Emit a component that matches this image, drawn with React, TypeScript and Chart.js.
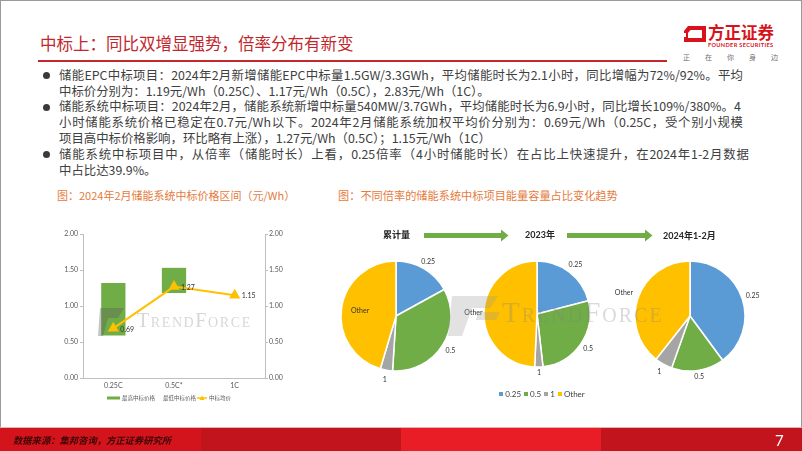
import React, { useEffect, useRef } from 'react';
import { Chart, registerables } from 'chart.js';

Chart.register(...registerables);

// ---------------- data ----------------
const priceCategories = ['0.25C', '0.5C*', '1C'];
const priceSeriesNames = ['最高中标价格', '最低中标价格', '中标均价'];
const priceLowest = [0.59, 1.18, null];
const priceHighest = [1.32, 1.53, null];
const priceAverage = [0.69, 1.27, 1.15];
const priceAxisMin = 0;
const priceAxisMax = 2;
const priceAxisStep = 0.5;

const rateLabels = ['0.25', '0.5', '1', 'Other'];
const periodLabels = ['累计量', '2023年', '2024年1-2月'];
const shareCumulative = [17, 34, 3.6, 45.4];
const share2023 = [21, 27.2, 2.5, 49.3];
const share2024JanFeb = [39.9, 15.5, 5.2, 39.4];

// ---------------- styles ----------------
const CJK = '"Noto Sans CJK SC", "Noto Sans", sans-serif';
const LATIN = 'Lato, "Noto Sans CJK SC", sans-serif';
const RATE_COLORS = ['#5B9BD5', '#70AD47', '#A5A5A5', '#FFC000'];
const RED = '#c1272d';
const TEXT = '#404040';
const ORANGE = '#e57b3c';

function ChartBox({ make, left, top, width, height }: any) {
  const ref = useRef<HTMLCanvasElement>(null);
  useEffect(() => {
    const chart = new Chart(ref.current as HTMLCanvasElement, make());
    return () => chart.destroy();
  }, []);
  return (
    <canvas
      ref={ref}
      width={width}
      height={height}
      style={{ position: 'absolute', left, top, width, height }}
    />
  );
}

const avgLabelPlugin = {
  id: 'avgLabels',
  afterDatasetsDraw(chart: any) {
    const ctx = chart.ctx;
    const meta = chart.getDatasetMeta(0);
    ctx.save();
    ctx.font = `7px ${LATIN}`;
    ctx.fillStyle = '#333';
    ctx.textAlign = 'left';
    ctx.textBaseline = 'middle';
    meta.data.forEach((pt: any, i: number) => {
      const v = priceAverage[i];
      if (v == null) return;
      ctx.fillText(v.toFixed(2), pt.x + 7, pt.y + 1);
    });
    ctx.restore();
  },
};

const priceLegendPlugin = {
  id: 'priceLegend',
  afterDraw(chart: any) {
    const { ctx, chartArea } = chart;
    const y = chartArea.bottom + 20;
    let x = chartArea.left + 24;
    ctx.save();
    ctx.font = `5.5px ${CJK}`;
    ctx.textBaseline = 'middle';
    ctx.textAlign = 'left';
    ctx.fillStyle = '#70AD47';
    ctx.fillRect(x, y - 1.5, 13, 3);
    x += 15;
    ctx.fillStyle = '#595959';
    ctx.fillText(priceSeriesNames[0], x, y);
    x += ctx.measureText(priceSeriesNames[0]).width + 8;
    ctx.fillText(priceSeriesNames[1], x, y);
    x += ctx.measureText(priceSeriesNames[1]).width + 1;
    ctx.strokeStyle = '#FFC000';
    ctx.lineWidth = 1.5;
    ctx.beginPath();
    ctx.moveTo(x, y);
    ctx.lineTo(x + 10, y);
    ctx.stroke();
    ctx.fillStyle = '#FFC000';
    ctx.beginPath();
    ctx.moveTo(x + 5, y - 2.5);
    ctx.lineTo(x + 7.5, y + 2);
    ctx.lineTo(x + 2.5, y + 2);
    ctx.closePath();
    ctx.fill();
    x += 12;
    ctx.fillStyle = '#595959';
    ctx.fillText(priceSeriesNames[2], x, y);
    ctx.restore();
  },
};

function yAxis(position: string, width: number) {
  return {
    position,
    min: priceAxisMin,
    max: priceAxisMax,
    ticks: {
      stepSize: priceAxisStep,
      padding: position === 'left' ? 2 : 1,
      color: '#595959',
      font: { size: 7, family: LATIN },
      callback: (v: any) => Number(v).toFixed(2),
    },
    grid: { drawOnChartArea: false, drawTicks: true, tickLength: 3, color: '#BFBFBF' },
    border: { display: true, color: '#BFBFBF' },
    afterFit: (s: any) => {
      s.width = width;
    },
  };
}

function priceConfig(): any {
  const ranges = priceLowest.map((lo, i) =>
    lo == null || priceHighest[i] == null ? null : [lo, priceHighest[i]]
  );
  return {
    type: 'bar',
    data: {
      labels: priceCategories,
      datasets: [
        {
          type: 'line',
          label: priceSeriesNames[2],
          data: priceAverage,
          borderColor: '#FFC000',
          backgroundColor: '#FFC000',
          borderWidth: 2,
          pointStyle: 'triangle',
          pointRadius: 4.5,
          pointBackgroundColor: '#FFC000',
          pointBorderColor: '#FFC000',
          yAxisID: 'y',
          order: 0,
        },
        {
          type: 'bar',
          label: priceSeriesNames[0],
          data: ranges,
          backgroundColor: '#70AD47',
          barPercentage: 0.4,
          categoryPercentage: 1,
          yAxisID: 'y',
          order: 1,
        },
      ],
    },
    options: {
      responsive: false,
      animation: false,
      layout: { padding: { top: 12, bottom: 14, left: 0, right: 0 } },
      plugins: { legend: { display: false }, tooltip: { enabled: false } },
      scales: {
        x: {
          grid: { display: false, drawTicks: false },
          border: { display: true, color: '#BFBFBF' },
          ticks: { padding: 4, color: '#595959', font: { size: 7, family: LATIN } },
          afterFit: (s: any) => {
            s.height = 20;
          },
        },
        y: yAxis('left', 43),
        y1: yAxis('right', 37),
      },
    },
    plugins: [avgLabelPlugin, priceLegendPlugin],
  };
}

function pieConfig(values: number[], radius: number, factors: number[]): any {
  return {
    type: 'pie',
    data: {
      labels: rateLabels,
      datasets: [
        { data: values, backgroundColor: RATE_COLORS, borderColor: '#ffffff', borderWidth: 1.5 },
      ],
    },
    options: {
      responsive: false,
      animation: false,
      radius,
      layout: { padding: 0 },
      plugins: { legend: { display: false }, tooltip: { enabled: false } },
    },
    plugins: [
      {
        id: 'pieLabels',
        afterDatasetsDraw(chart: any) {
          const ctx = chart.ctx;
          const meta = chart.getDatasetMeta(0);
          ctx.save();
          ctx.font = `7px ${LATIN}`;
          ctx.fillStyle = '#333';
          ctx.textAlign = 'center';
          ctx.textBaseline = 'middle';
          meta.data.forEach((arc: any, i: number) => {
            const p = arc.getProps(['x', 'y', 'startAngle', 'endAngle', 'outerRadius'], true);
            const mid = (p.startAngle + p.endAngle) / 2;
            const r = p.outerRadius * factors[i];
            ctx.fillText(String(chart.data.labels[i]), p.x + Math.cos(mid) * r, p.y + Math.sin(mid) * r);
          });
          ctx.restore();
        },
      },
    ],
  };
}

const bulletLines = [
  { text: '储能EPC中标项目：2024年2月新增储能EPC中标量1.5GW/3.3GWh，平均储能时长为2.1小时，同比增幅为72%/92%。平均', bullet: true, width: 684 },
  { text: '中标价分别为：1.19元/Wh（0.25C）、1.17元/Wh（0.5C），2.83元/Wh（1C）。', bullet: false, width: 0 },
  { text: '储能系统中标项目：2024年2月，储能系统新增中标量540MW/3.7GWh，平均储能时长为6.9小时，同比增长109%/380%。4', bullet: true, width: 682 },
  { text: '小时储能系统价格已稳定在0.7元/Wh以下。2024年2月储能系统加权平均价分别为：0.69元/Wh（0.25C，受个别小规模', bullet: false, width: 684 },
  { text: '项目高中标价格影响，环比略有上涨），1.27元/Wh（0.5C）；1.15元/Wh（1C）', bullet: false, width: 0 },
  { text: '储能系统中标项目中，从倍率（储能时长）上看，0.25倍率（4小时储能时长）在占比上快速提升，在2024年1-2月数据', bullet: true, width: 690 },
  { text: '中占比达39.9%。', bullet: false, width: 0 },
];

const abs = (o: any): any => ({ position: 'absolute', ...o });

export default function App() {
  const lineH = 15.8;
  const firstTop = 67.8;
  return (
    <div style={{ position: 'relative', width: 802, height: 451, overflow: 'hidden', background: '#fff', fontFamily: CJK }}>
      <style>{'html,body{margin:0;padding:0;background:#fff}'}</style>

      {/* slide frame */}
      <div style={abs({ left: 0, top: 0, width: 802, height: 1, background: '#9a9a9a' })} />
      <div style={abs({ left: 0, top: 0, width: 1, height: 451, background: '#9a9a9a' })} />
      <div style={abs({ left: 801, top: 0, width: 1, height: 451, background: '#9a9a9a' })} />

      {/* title */}
      <div style={abs({ left: 40, top: 33, fontSize: 16.5, lineHeight: '20px', color: RED, whiteSpace: 'nowrap' })}>
        中标上：同比双增显强势，倍率分布有新变
      </div>
      <div style={abs({ left: 38, top: 60, width: 629, height: 2, background: RED })} />

      {/* logo */}
      <svg style={abs({ left: 0, top: 0 })} width={802} height={451}>
        <path d="M688 26 L706 26 L706 42 L684 42 L684 31 Z M690.5 30 L702 30 L702 38 L688 38 L688 33 Z" fill="#d7141c" fillRule="evenodd" />
        <rect x={683} y={33} width={3} height={4} fill="#ffffff" />
      </svg>
      <div style={abs({ left: 708, top: 22, fontSize: 16.5, lineHeight: '20px', fontWeight: 700, color: '#d7141c', whiteSpace: 'nowrap' })}>
        方正证券
      </div>
      <div style={abs({ left: 708, top: 41, fontSize: 5.6, lineHeight: '7px', fontWeight: 700, color: '#d7141c', letterSpacing: 0.35, fontFamily: LATIN, whiteSpace: 'nowrap' })}>
        FOUNDER SECURITIES
      </div>
      <div style={abs({ left: 683, top: 53, width: 95, display: 'flex', justifyContent: 'space-between', fontSize: 7, lineHeight: '9px', color: '#707070' })}>
        {'正在你身边'.split('').map((c, i) => (
          <span key={i}>{c}</span>
        ))}
      </div>

      {/* bullets */}
      {bulletLines.map((l, i) => (
        <React.Fragment key={i}>
          {l.bullet && (
            <div style={abs({ left: 42.5, top: firstTop + i * lineH + lineH / 2 - 3.5, width: 7, height: 7, borderRadius: '50%', background: '#3a3a3a' })} />
          )}
          <div
            style={abs({
              left: 59,
              top: firstTop + i * lineH,
              width: l.width ? l.width : 720,
              height: lineH,
              lineHeight: `${lineH}px`,
              fontSize: 12.4,
              color: TEXT,
              textAlign: l.width ? 'justify' : 'left',
              textAlignLast: l.width ? 'justify' : 'left',
            })}
          >
            {l.text}
          </div>
        </React.Fragment>
      ))}

      {/* captions */}
      <div style={abs({ left: 57, top: 188, fontSize: 11, lineHeight: '14px', color: ORANGE, whiteSpace: 'nowrap' })}>
        图：2024年2月储能系统中标价格区间（元/Wh）
      </div>
      <div style={abs({ left: 338, top: 188, fontSize: 11.2, lineHeight: '14px', color: ORANGE, whiteSpace: 'nowrap' })}>
        图：不同倍率的储能系统中标项目能量容量占比变化趋势
      </div>

      {/* left chart */}
      <ChartBox make={priceConfig} left={40} top={222} width={262} height={190} />

      {/* pies */}
      <ChartBox make={() => pieConfig(shareCumulative, 55, [1.15, 1.17, 1.17, 0.66])} left={396 - 95} top={316 - 75} width={190} height={150} />
      <ChartBox make={() => pieConfig(share2023, 53, [1.18, 1.17, 1.1, 1.2])} left={537 - 95} top={314 - 75} width={190} height={150} />
      <ChartBox make={() => pieConfig(share2024JanFeb, 55, [1.2, 1.12, 1.16, 1.27])} left={690 - 95} top={316 - 75} width={190} height={150} />

      {/* pie headers and arrows */}
      <div style={abs({ left: 383, top: 229, fontSize: 9, lineHeight: '12px', fontWeight: 700, color: '#262626', whiteSpace: 'nowrap' })}>
        {periodLabels[0]}
      </div>
      <div style={abs({ left: 525, top: 229, fontSize: 9, lineHeight: '12px', color: '#262626', fontFamily: LATIN, fontWeight: 700, whiteSpace: 'nowrap' })}>
        {periodLabels[1]}
      </div>
      <div style={abs({ left: 663, top: 229.5, fontSize: 9, lineHeight: '12px', color: '#262626', fontFamily: LATIN, fontWeight: 700, whiteSpace: 'nowrap' })}>
        {periodLabels[2]}
      </div>
      <svg style={abs({ left: 0, top: 0, pointerEvents: 'none' })} width={802} height={451}>
        <rect x={424} y={233} width={79} height={5} fill="#70AD47" />
        <path d="M501 229.5 L508.5 235.5 L501 241.5 Z" fill="#70AD47" />
        <rect x={567} y={233} width={80} height={5} fill="#70AD47" />
        <path d="M645 229.5 L652.5 235.5 L645 241.5 Z" fill="#70AD47" />
        {/* watermark marks */}
        <path d="M100 308 L124 308 L118 318 L108 318 L103 336 L98 336 Z" fill="rgba(90,90,90,0.35)" />
        <path d="M452 296 L498 296 L490 308 L472 308 L462 336 L448 336 Z" fill="rgba(150,150,150,0.28)" />
        <path d="M478 312 L500 312 L496 320 L476 320 Z" fill="rgba(150,150,150,0.28)" />
      </svg>

      {/* watermarks */}
      <div style={abs({ left: 137, top: 308, fontSize: 20, lineHeight: '25px', fontFamily: '"Liberation Serif", serif', fontVariant: 'small-caps', color: 'rgba(140,140,140,0.35)', letterSpacing: 1.6, whiteSpace: 'nowrap' })}>
        TrendForce
      </div>
      <div style={abs({ left: 502, top: 294, fontSize: 29, lineHeight: '36px', fontFamily: '"Liberation Serif", serif', fontVariant: 'small-caps', color: 'rgba(130,130,130,0.3)', letterSpacing: 2, whiteSpace: 'nowrap' })}>
        TrendForce
      </div>

      {/* pie legend */}
      <div style={abs({ left: 442, top: 388, width: 200, textAlign: 'center', fontSize: 8, lineHeight: '12px', color: TEXT, fontFamily: LATIN, whiteSpace: 'nowrap' })}>
        {rateLabels.map((l, i) => (
          <span key={i} style={{ marginRight: i < rateLabels.length - 1 ? 3 : 0 }}>
            <span style={{ display: 'inline-block', width: 4, height: 4, background: RATE_COLORS[i], marginRight: 2, verticalAlign: 'middle', position: 'relative', top: -1 }} />
            {l}
          </span>
        ))}
      </div>

      {/* footer */}
      <div style={abs({ left: 0, top: 427, width: 802, height: 1, background: '#eab2b4' })} />
      <div style={abs({ left: 0, top: 428, width: 201, height: 23, background: '#d3141d' })} />
      <div style={abs({ left: 201, top: 428, width: 200, height: 23, background: '#c1141c' })} />
      <div style={abs({ left: 401, top: 428, width: 200, height: 23, background: '#e81d25' })} />
      <div style={abs({ left: 601, top: 428, width: 201, height: 23, background: '#c1141c' })} />
      <div style={abs({ left: 13, top: 433, fontSize: 9.3, lineHeight: '14px', fontStyle: 'italic', fontWeight: 700, color: '#3a0606', whiteSpace: 'nowrap' })}>
        数据来源：集邦咨询，方正证券研究所
      </div>
      <div style={abs({ left: 775, top: 430, fontSize: 15, lineHeight: '20px', color: '#ffffff', fontFamily: LATIN })}>
        7
      </div>
    </div>
  );
}
